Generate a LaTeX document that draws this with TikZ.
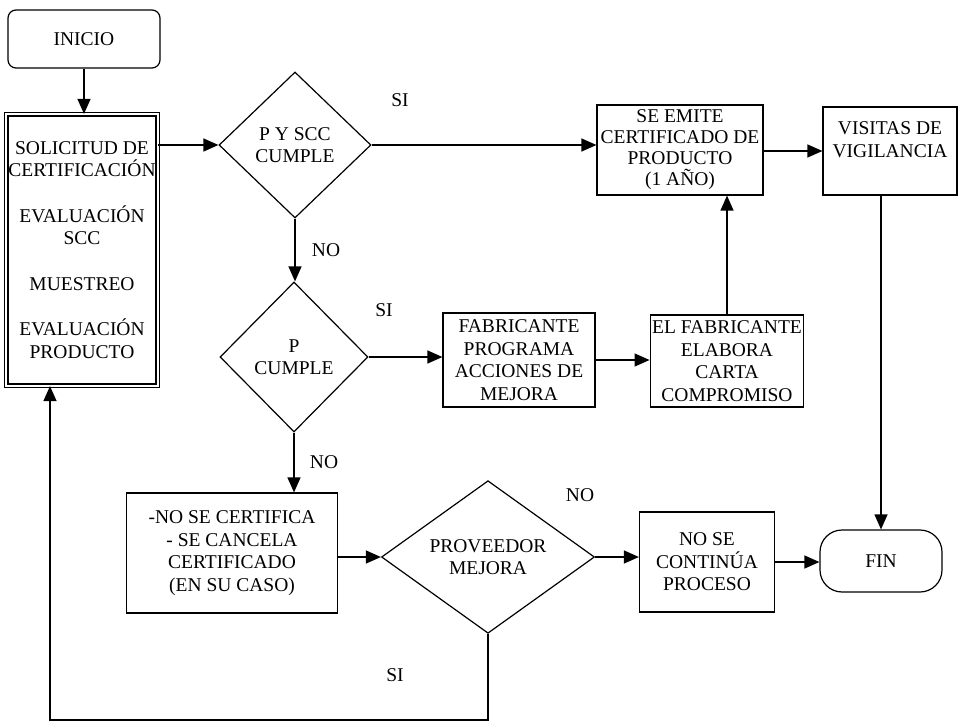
\documentclass[tikz,border=0pt]{standalone}
\usepackage{fontspec}
\setmainfont{Liberation Serif}
\usepackage{tikz}
\usetikzlibrary{arrows.meta,shapes.geometric}

\begin{document}
\begin{tikzpicture}[
    x=1pt, y=-1pt,
    font=\fontsize{19.5}{22.5}\selectfont,
    line width=1.2pt,
    >={Triangle[length=15pt,width=13pt]},
    box/.style={draw, align=center, inner sep=2pt},
    dec/.style={draw, diamond, align=center, inner sep=0pt},
    lbl/.style={inner sep=1pt},
]
\useasboundingbox (0,0) rectangle (961,722);

%% ---- LEFT COLUMN ----
\node[box, rounded corners=8pt, minimum width=152pt, minimum height=58pt]
    (inicio) at (84,39) {INICIO};
\node[box, double, double distance=2pt, minimum width=148pt, minimum height=271pt]
    (solicitud) at (82,250)
    {SOLICITUD DE\\CERTIFICACIÓN\\[23pt]EVALUACIÓN\\SCC\\[23pt]MUESTREO\\[23pt]EVALUACIÓN\\PRODUCTO};

%% ---- DECISIONS ----
\node[dec, minimum width=152pt, minimum height=146pt] (pscc)  at (295,145) {P Y SCC\\CUMPLE};
\node[dec, minimum width=148pt, minimum height=150pt] (pcump) at (294,357) {P\\CUMPLE};
\node[dec, minimum width=213pt, minimum height=150pt] (prov)  at (488,557) {PROVEEDOR\\MEJORA};

%% ---- BOXES ----
\node[box, font=\fontsize{19.5}{21}\selectfont, minimum width=166pt, minimum height=90pt]
    (emite) at (680,150) {SE EMITE\\CERTIFICADO DE\\PRODUCTO\\(1 AÑO)};
\node[box, minimum width=134pt, minimum height=88pt] (visitas) at (890,151)
    {VISITAS DE\\VIGILANCIA\\\mbox{}};
\node[box, minimum width=152pt, minimum height=94pt] (fabprog) at (519,360)
    {FABRICANTE\\PROGRAMA\\ACCIONES DE\\MEJORA};
\node[box, minimum width=142pt, minimum height=92pt] (carta)   at (727,361)
    {EL FABRICANTE\\ELABORA\\CARTA\\COMPROMISO};
\node[box, minimum width=211pt, minimum height=120pt] (nocert) at (232,553)
    {-NO SE CERTIFICA\\- SE CANCELA\\CERTIFICADO\\(EN SU CASO)};
\node[box, minimum width=135pt, minimum height=100pt] (nocont) at (707,562)
    {NO SE\\CONTINÚA\\PROCESO};
\node[box, rounded corners=22pt, minimum width=122pt, minimum height=62pt]
    (fin) at (881,561) {FIN};

%% ---- LABELS ----
\node[lbl] (si1) at (400,100) {SI};
\node[lbl] (no1) at (326,250) {NO};
\node[lbl] (si2) at (384,310) {SI};
\node[lbl] (no2) at (324,462) {NO};
\node[lbl] (no3) at (580,495) {NO};
\node[lbl] (si3) at (395,675) {SI};

\coordinate (loop) at (50,720);

%% ---- CONNECTORS ----
\draw[->] (inicio.south) -- (inicio.south |- solicitud.north);
\draw[->] (solicitud.east |- pscc.west) -- (pscc.west);
\draw[->] (pscc.east) -- (emite.west |- pscc.east);
\draw[->] (emite.east |- visitas.west) -- (visitas.west);
\draw[->] (fin.north |- visitas.south) -- (fin.north);
\draw[->] (pscc.south) -- (pcump.north -| pscc.south);
\draw[->] (pcump.east) -- (fabprog.west |- pcump.east);
\draw[->] (fabprog.east) -- (carta.west |- fabprog.east);
\draw[->] (carta.north) -- (carta.north |- emite.south);
\draw[->] (pcump.south) -- (pcump.south |- nocert.north);
\draw[->] (nocert.east |- prov.west) -- (prov.west);
\draw[->] (prov.east) -- (nocont.west |- prov.east);
\draw[->] (nocont.east) -- (fin.west |- nocont.east);

%% ---- loop back to start ----
\draw[->] (prov.south) |- (loop) -- (loop |- solicitud.south);

\end{tikzpicture}
\end{document}
